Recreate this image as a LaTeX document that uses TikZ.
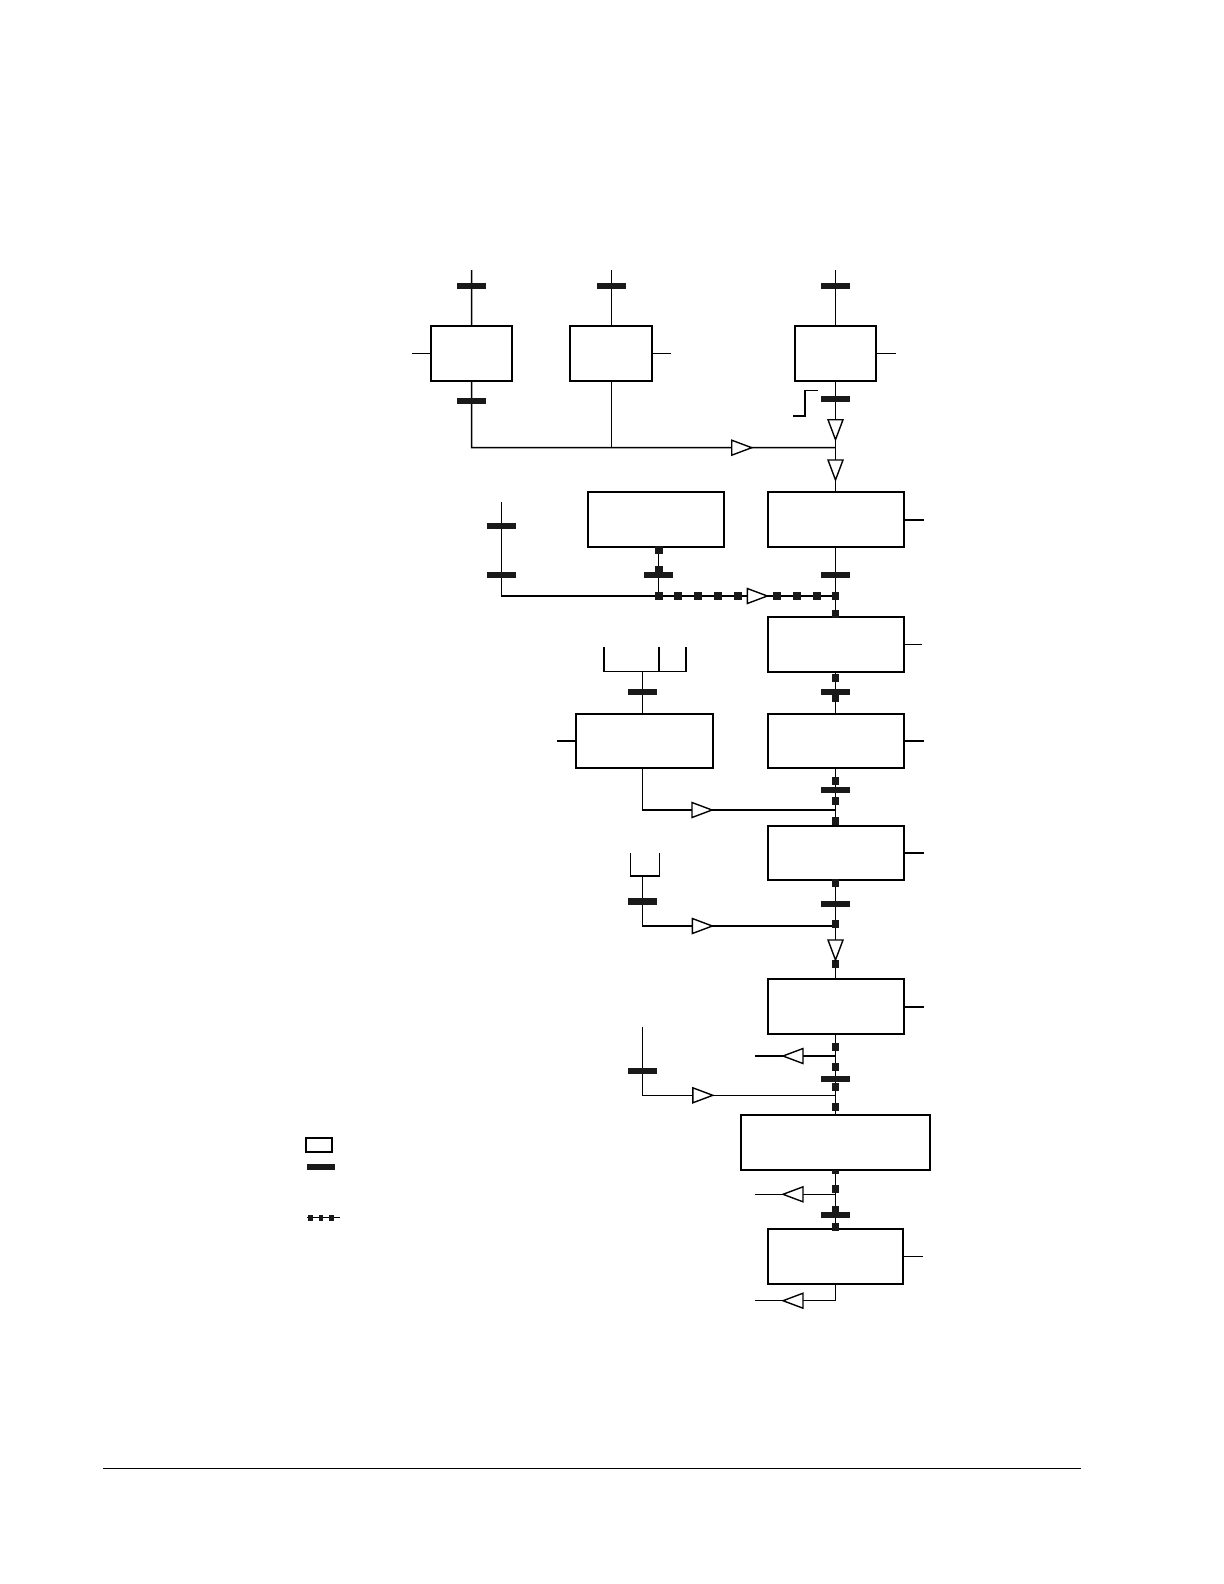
\documentclass[tikz,border=0pt]{standalone}
\usetikzlibrary{fit}
\tikzset{
  box/.style={draw, line width=1pt, inner sep=0pt, outer sep=0pt, fill=white},
  conn/.style={line width=0.75pt},
  thinline/.style={line width=0.55pt},
  tri/.style={draw, fill=white, line width=0.7pt, line join=miter},
}
\newcommand{\tbar}[2]{\fill[black!90] ({#1-14.5},{#2-3.2}) rectangle ({#1+14.5},{#2+3.2});}
\newcommand{\sqd}[2]{\fill[black!90] ({#1-3.8},{#2-4}) rectangle ({#1+3.8},{#2+4});}
\newcommand{\trR}[2]{\draw[tri] ({#1-10},{#2-7.5}) -- ({#1+10},{#2}) -- ({#1-10},{#2+7.5}) -- cycle;}
\newcommand{\trL}[2]{\draw[tri] ({#1+10},{#2-7.5}) -- ({#1-10},{#2}) -- ({#1+10},{#2+7.5}) -- cycle;}
\newcommand{\trD}[2]{\draw[tri] ({#1-7.5},{#2-10}) -- ({#1+7.5},{#2-10}) -- ({#1},{#2+10}) -- cycle;}
\begin{document}
\begin{tikzpicture}[x=0.5pt,y=-0.5pt]
\useasboundingbox (0,0) rectangle (1224,1584);
% ---------- boxes ----------
\node[box, fit={(430.7,326.3) (512.3,381)}] (b1) {};
\node[box, fit={(570.3,326.3) (652.3,381)}] (b2) {};
\node[box, fit={(795,326.3) (876,381)}] (b3) {};
\node[box, fit={(767.5,492.3) (903.5,547.3)}] (b4) {};
\node[box, fit={(587.7,492.3) (724.3,547.3)}] (b5) {};
\node[box, fit={(767.5,616.7) (903.5,671.7)}] (b6) {};
\node[box, fit={(767.5,713.7) (903.5,768)}] (b7) {};
\node[box, fit={(575.7,713.7) (713,768)}] (b8) {};
\node[box, fit={(767.5,825.7) (903.5,880.3)}] (b9) {};
\node[box, fit={(767.5,979.3) (903.5,1034.3)}] (b10) {};
\node[box, fit={(741,1114.7) (930,1170.3)}] (b11) {};
\node[box, fit={(768,1229.3) (903,1284)}] (b12) {};
% ---------- coordinates ----------
\coordinate (t1) at (471.5,270);
\coordinate (t2) at (611.3,270);
\coordinate (t3) at (835.5,270);
\coordinate (j1) at (471.5,447.7);
\coordinate (j3) at (835.5,447.7);
\coordinate (l4) at (501.7,502.3);
\coordinate (l4b) at (501.7,596);
\coordinate (c5) at (658.7,596);
\coordinate (j4) at (835.5,596);
\coordinate (f1) at (642.7,671.7);
\coordinate (f1b) at (642.7,810);
\coordinate (j7) at (835.5,810);
\coordinate (f2) at (642.7,876);
\coordinate (f2b) at (642.7,926);
\coordinate (j9) at (835.5,926);
\coordinate (f3) at (642.7,1026.7);
\coordinate (f3b) at (642.7,1095.3);
\coordinate (j10) at (835.5,1095.3);
\coordinate (o10) at (835.5,1056);
\coordinate (o10e) at (755,1056);
\coordinate (o11) at (835.5,1194.3);
\coordinate (o11e) at (755,1194.3);
\coordinate (o12) at (835.5,1300.7);
\coordinate (o12e) at (755,1300.7);
% ---------- connectors ----------
\draw[conn] (t1) -- (b1.north);
\draw[conn] (t2) -- (b2.north);
\draw[conn] (t3) -- (b3.north);
\draw[conn] (b1.west) -- ++(-18.7,0);
\draw[conn] (b2.east) -- ++(18.4,0);
\draw[conn] (b3.east) -- ++(20,0);
\draw[conn] (b1.south) -- (j1) -- (j3);
\draw[conn] (b2.south) -- (b2.south |- j1);
\draw[conn] (b3.south) -- (b4.north);
\draw[conn] (793,416) -- (805,416) -- (805,390.3) -- (817.7,390.3);
\draw[conn] (b4.east) -- ++(20.5,0);
\draw[conn] (b4.south) -- (b6.north);
\draw[conn] (l4) -- (l4b) -- (j4);
\draw[conn] (b5.south -| c5) -- (c5);
\draw[thinline] (b6.east) -- ++(18.4,0);
\draw[conn] (b6.south) -- (b7.north);
\draw[conn] (b7.east) -- ++(20,0);
\draw[conn] (b8.west) -- ++(-18.4,0);
\draw[conn] (604,646.7) -- (604,671.7) -- (686,671.7) -- (686,646.7);
\draw[conn] (659,646.7) -- (659,671.7);
\draw[conn] (f1) -- (b8.north -| f1);
\draw[conn] (b8.south -| f1b) -- (f1b) -- (j7);
\draw[conn] (b7.south) -- (b9.north);
\draw[conn] (b9.east) -- ++(20,0);
\draw[conn] (630.7,853.3) -- (630.7,876) -- (659.3,876) -- (659.3,853.3);
\draw[conn] (f2) -- (f2b) -- (j9);
\draw[conn] (b9.south) -- (b10.north);
\draw[conn] (b10.east) -- ++(20.5,0);
\draw[conn] (b10.south) -- (b11.north);
\draw[conn] (o10) -- (o10e);
\draw[thinline] (f3) -- (f3b) -- (j10);
\draw[conn] (b11.south) -- (b12.north);
\draw[thinline] (o11) -- (o11e);
\draw[conn] (b12.east) -- ++(19.5,0);
\draw[conn] (b12.south) -- (o12) -- (o12e);
% ---------- bars ----------
\tbar{471.5}{286} \tbar{611.3}{286} \tbar{835.5}{286}
\tbar{471.5}{400.7} \tbar{835.5}{398.7}
\tbar{501.7}{525.7} \tbar{501.7}{574.7} \tbar{658.7}{574.7} \tbar{835.5}{574.7}
\tbar{642.7}{692} \tbar{835.5}{692}
\tbar{835.5}{790}
\tbar{642.7}{901.3} \tbar{835.5}{904}
\tbar{642.7}{1070.7} \tbar{835.5}{1079}
\tbar{835.5}{1214.7}
% ---------- squares ----------
\foreach \yy in {596,613.5,677.7,697.5,780.7,801,821.3,883.3,923.7,964.3,1046.7,1066.7,1086.7,1107.3,1189.3,1209.5,1227}
  {\sqd{835.5}{\yy}}
\fill[black!90] (831.7,1170.3) rectangle (839.3,1173.8);
\foreach \xx in {658.7,678,698,718,737.7,776.7,797,816.7}
  {\sqd{\xx}{596}}
\sqd{658.7}{550} \sqd{658.7}{570}
% ---------- triangles ----------
\trR{741.7}{447.7}
\trD{835.5}{429.7}
\trD{835.5}{470}
\trR{757.3}{596}
\trR{702}{810}
\trR{702.3}{926}
\trD{835.5}{950}
\trL{793}{1056}
\trR{702.8}{1095.3}
\trL{793}{1194.3}
\trL{793}{1300.7}
% ---------- legend ----------
\node[box, fit={(306,1138.3) (331.7,1151.7)}] (lg1) {};
\fill[black!90] (307.3,1163.7) rectangle (334.7,1169.7);
\draw[conn] (307.3,1217.7) -- (340,1217.7);
\foreach \xx in {310.7,321,331.7}
  {\fill[black!90] ({\xx-2.3},1214.8) rectangle ({\xx+2.3},1220.6);}
% ---------- bottom rule ----------
\draw[line width=0.6pt] (103,1468.5) -- (1081,1468.5);
\end{tikzpicture}
\end{document}
